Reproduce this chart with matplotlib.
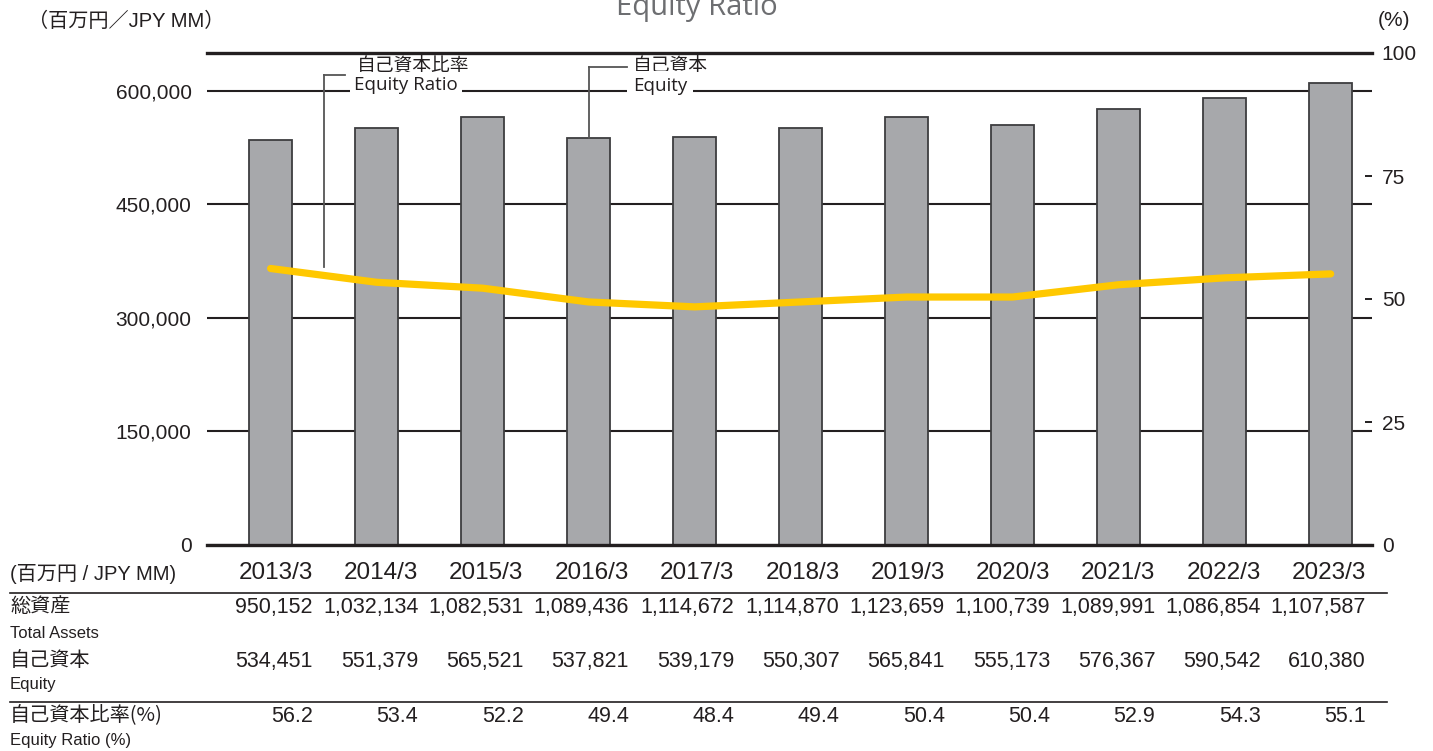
import matplotlib
matplotlib.use("Agg")
import matplotlib.pyplot as plt
from matplotlib import font_manager
import numpy as np

# ---------------- data ----------------
years = ["2013/3", "2014/3", "2015/3", "2016/3", "2017/3", "2018/3",
         "2019/3", "2020/3", "2021/3", "2022/3", "2023/3"]
total_assets = [950152, 1032134, 1082531, 1089436, 1114672, 1114870,
                1123659, 1100739, 1089991, 1086854, 1107587]
equity = [534451, 551379, 565521, 537821, 539179, 550307,
          565841, 555173, 576367, 590542, 610380]
equity_ratio = [56.2, 53.4, 52.2, 49.4, 48.4, 49.4, 50.4, 50.4, 52.9, 54.3, 55.1]
left_ticks = [0, 150000, 300000, 450000, 600000]
right_ticks = [0, 25, 50, 75, 100]
right_labels = ["0", "25", "50", "75", "100"]

# ---------------- fonts ----------------
names = {f.name for f in font_manager.fontManager.ttflist}
NARROW = "Liberation Sans Narrow" if "Liberation Sans Narrow" in names else "Liberation Sans"
SANS = "Liberation Sans"
CJK = "Noto Sans CJK JP"
OPEN = "Open Sans" if "Open Sans" in names else "DejaVu Sans"
DARK = "#231f20"

W, H = 1433, 751
fig = plt.figure(figsize=(W / 100, H / 100), dpi=100)


def T(x, y, s, **kw):
    return fig.text(x / W, 1 - y / H, s, **kw)


L, R, B, TOP = 207, 1372, 545, 53
ax = fig.add_axes([L / W, 1 - B / H, (R - L) / W, (B - TOP) / H])
ax2 = ax.twinx()

x = np.arange(len(years))
ax.bar(x, equity, width=0.4, color="#a7a8ab", edgecolor="#3d3d3f",
       linewidth=1.3, zorder=2)
ax.set_xlim(-0.6, 10.39)
ax.set_ylim(0, 650000)
ax.set_yticks(left_ticks)
ax.set_yticklabels([f"{v:,}" for v in left_ticks], family=[NARROW, CJK],
                   fontsize=15, color=DARK)
ax.tick_params(axis="y", length=0, pad=11)
ax.set_xticks([])
ax.yaxis.grid(True, color=DARK, linewidth=1.5)
ax.set_axisbelow(True)
for s in ["left", "right"]:
    ax.spines[s].set_visible(False)
ax.spines["top"].set_color(DARK)
ax.spines["top"].set_linewidth(2.4)
ax.spines["bottom"].set_color(DARK)
ax.spines["bottom"].set_linewidth(2.4)

ax2.plot(x, equity_ratio, color="#ffc800", linewidth=5.2,
         solid_capstyle="round", solid_joinstyle="round", zorder=5)
ax2.set_ylim(0, 100)
ax2.set_yticks(right_ticks)
ax2.set_yticklabels(right_labels, family=[NARROW, CJK], fontsize=15, color=DARK)
ax2.tick_params(axis="y", direction="in", length=5, width=1.4, color=DARK, pad=7)
for s in ["left", "right", "top", "bottom"]:
    ax2.spines[s].set_visible(False)
ax2.set_xlim(-0.6, 10.39)

# ---------------- callouts ----------------
# Equity Ratio callout (between first two points)
xr = 0.5
r_mid = (equity_ratio[0] + equity_ratio[1]) / 2
r_top = (B - 75) / (B - TOP) * 100
ax2.plot([xr, xr], [r_mid + 1.8, r_top], color="#555555",
         lw=1.3, clip_on=False, zorder=3)
ax2.plot([xr, xr + 0.2], [r_top] * 2, color="#555555",
         lw=1.3, clip_on=False, zorder=3)
# Equity callout at 2016/3 bar
xe = 3
e_top = (B - 67) / (B - TOP) * 650000
ax.plot([xe, xe], [equity[xe], e_top], color="#555555",
        lw=1.3, clip_on=False, zorder=3)
ax.plot([xe, xe + 0.36], [e_top] * 2, color="#555555",
        lw=1.3, clip_on=False, zorder=3)

T(357, 65, "自己資本比率", family=[CJK], fontsize=13.5, color=DARK, va="center")
T(354, 85, "Equity Ratio", family=[OPEN], fontsize=13.5, color=DARK, va="center",
  bbox=dict(facecolor="white", edgecolor="none", pad=3))
T(633, 65, "自己資本", family=[CJK], fontsize=13.5, color=DARK, va="center")
T(633, 86, "Equity", family=[OPEN], fontsize=13.5, color=DARK, va="center",
  bbox=dict(facecolor="white", edgecolor="none", pad=4))

# ---------------- titles / units ----------------
T(697, 15, "Equity Ratio", family=[OPEN], fontsize=21, color="#6d6e71",
  ha="center", va="baseline")
T(28, 21, "（百万円／JPY MM）", family=[NARROW, CJK], fontsize=14.5, color=DARK,
  va="center")
T(1378, 21, "(%)", family=[NARROW, CJK], fontsize=15, color=DARK, va="center")

# ---------------- table ----------------
col_right = [313 + i * 105.3 for i in range(len(years))]
T(10, 574, "(百万円 / JPY MM)", family=[NARROW, CJK], fontsize=14.5, color=DARK,
  va="center")
for i, yl in enumerate(years):
    T(col_right[i], 573, yl, family=[SANS], fontsize=17.5, color=DARK,
      ha="right", va="center")
    T(col_right[i], 607, f"{total_assets[i]:,}", family=[SANS], fontsize=15.5,
      color=DARK, ha="right", va="center")
    T(col_right[i], 661, f"{equity[i]:,}", family=[SANS], fontsize=15.5,
      color=DARK, ha="right", va="center")
    T(col_right[i], 717, f"{equity_ratio[i]:.1f}", family=[SANS], fontsize=15.5,
      color=DARK, ha="right", va="center")

T(10, 607, "総資産", family=[CJK], fontsize=14.5, color=DARK, va="center")
T(10, 633, "Total Assets", family=[NARROW], fontsize=12, color=DARK, va="center")
T(10, 660, "自己資本", family=[CJK], fontsize=14.5, color=DARK, va="center")
T(10, 685, "Equity", family=[NARROW], fontsize=12, color=DARK, va="center")
T(10, 716, "自己資本比率(%)", family=[CJK, NARROW], fontsize=14.5, color=DARK,
  va="center")
T(10, 740, "Equity Ratio (%)", family=[NARROW], fontsize=12, color=DARK,
  va="center")

for yy in (593, 702):
    fig.add_artist(plt.Line2D([10 / W, 1387 / W], [1 - yy / H] * 2,
                              color=DARK, linewidth=1.2))

fig.savefig("out.png", dpi=100)
